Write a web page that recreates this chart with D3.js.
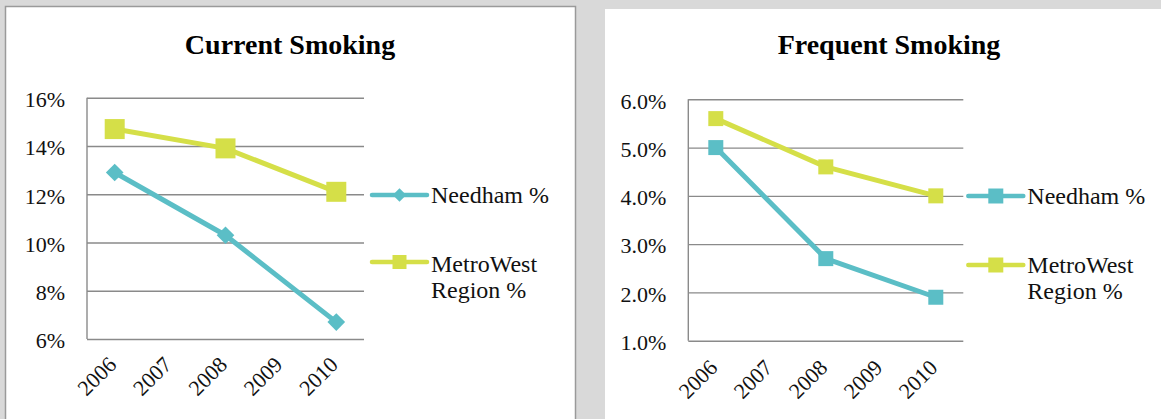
<!DOCTYPE html>
<html>
<head>
<meta charset="utf-8">
<script src="https://cdn.jsdelivr.net/npm/d3@7"></script>
<style>
  html, body { margin: 0; padding: 0; background: #d9d9d9; }
  svg { display: block; font-family: "Liberation Serif", "Times New Roman", serif; }
  svg text { font-family: "Liberation Serif", "Times New Roman", serif !important; }
</style>
</head>
<body>
<svg id="chart" width="1161" height="419"></svg>
<script>
// ---------- data ----------
const years = ["2006", "2007", "2008", "2009", "2010"];
const seriesNames = ["Needham %", "MetroWest Region %"];

const currentTitle = "Current Smoking";
const currentNeedham = [12.9, null, 10.3, null, 6.7];
const currentMetroWest = [14.7, null, 13.9, null, 12.1];
const currentTickValues = [6, 8, 10, 12, 14, 16];
const currentTickLabels = ["6%", "8%", "10%", "12%", "14%", "16%"];

const frequentTitle = "Frequent Smoking";
const frequentNeedham = [5.0, null, 2.7, null, 1.9];
const frequentMetroWest = [5.6, null, 4.6, null, 4.0];
const frequentTickValues = [1, 2, 3, 4, 5, 6];
const frequentTickLabels = ["1.0%", "2.0%", "3.0%", "4.0%", "5.0%", "6.0%"];

// ---------- styles ----------
const TEAL = "#5bbec6";
const LIME = "#d5df48";
const GRID = "#8a8a8a";

const svg = d3.select("#chart");

// panel backgrounds
svg.append("rect").attr("x", 5.5).attr("y", 6.5).attr("width", 570).attr("height", 430)
  .attr("fill", "#fff").attr("stroke", "#9a9a9a").attr("stroke-width", 1.5);
svg.append("rect").attr("x", 605).attr("y", 9).attr("width", 570).attr("height", 430)
  .attr("fill", "#fff");

function drawPanel(cfg) {
  const g = svg.append("g");
  const x = d3.scaleBand().domain(years).range([cfg.x0, cfg.x1]);
  const y = d3.scaleLinear().domain(d3.extent(cfg.tickValues)).range([cfg.yB, cfg.yT]);
  const cx = d => x(d) + x.bandwidth() / 2;

  // title
  g.append("text").attr("x", cfg.titleX).attr("y", 54)
    .attr("text-anchor", "middle")
    .attr("font-weight", "bold").attr("font-size", 28).attr("fill", "#000")
    .text(cfg.title);

  // gridlines + y labels
  const yAxis = d3.axisLeft(y).tickValues(cfg.tickValues)
    .tickSize(-(cfg.x1 - cfg.x0)).tickPadding(22)
    .tickFormat((d, i) => cfg.tickLabels[i]);
  const ya = g.append("g").attr("transform", `translate(${cfg.x0},0)`).call(yAxis);
  ya.attr("font-family", null).attr("font-size", null);
  ya.select(".domain").remove();
  ya.selectAll(".tick line").attr("stroke", GRID).attr("stroke-width", 1.4);
  ya.selectAll(".tick text").attr("font-size", 22)
    .attr("fill", "#111").attr("dy", "0.4em");

  // left axis line
  g.append("line").attr("x1", cfg.x0).attr("x2", cfg.x0).attr("y1", cfg.yT).attr("y2", cfg.yB)
    .attr("stroke", GRID).attr("stroke-width", 1.4);

  // x labels (rotated)
  g.append("g").selectAll("text").data(years).join("text")
    .attr("transform", d => `translate(${cx(d) + 3},${cfg.labelY}) rotate(-45)`)
    .attr("text-anchor", "end").attr("font-size", 22)
    .attr("fill", "#111").text(d => d);

  // series
  const line = d3.line().x(d => cx(d.year)).y(d => y(d.v));
  cfg.series.forEach(s => {
    const pts = years.map((yr, i) => ({ year: yr, v: s.values[i] })).filter(d => d.v != null);
    g.append("path").datum(pts).attr("d", line).attr("fill", "none")
      .attr("stroke", s.color).attr("stroke-width", 5).attr("stroke-linejoin", "round");
    g.append("g").selectAll("path").data(pts).join("path")
      .attr("transform", d => `translate(${cx(d.year)},${y(d.v)})${s.diamond ? " rotate(45)" : ""}`)
      .attr("d", d3.symbol(d3.symbolSquare, s.size * s.size)())
      .attr("fill", s.color);
  });

  // legend
  cfg.series.forEach((s, i) => {
    const L = cfg.legend[i];
    g.append("line").attr("x1", L.x).attr("x2", L.x + 55).attr("y1", L.y).attr("y2", L.y)
      .attr("stroke", s.color).attr("stroke-width", 4.5).attr("stroke-linecap", "round");
    g.append("path")
      .attr("transform", `translate(${L.x + 27.5},${L.y})${s.diamond ? " rotate(45)" : ""}`)
      .attr("d", d3.symbol(d3.symbolSquare, s.legendSize * s.legendSize)())
      .attr("fill", s.color);
    const t = g.append("text").attr("font-size", 24).attr("fill", "#111");
    L.lines.forEach((txt, j) => {
      t.append("tspan").attr("x", L.x + 59).attr("y", L.ty + j * 26.6).text(txt);
    });
  });
}

drawPanel({
  title: currentTitle, titleX: 290,
  x0: 87, x1: 364, yT: 97.7, yB: 339, labelY: 366,
  tickValues: currentTickValues, tickLabels: currentTickLabels,
  series: [
    { values: currentNeedham, color: TEAL, diamond: true, size: 12.5, legendSize: 9.5 },
    { values: currentMetroWest, color: LIME, diamond: false, size: 20, legendSize: 14 }
  ],
  legend: [
    { x: 372, y: 195, ty: 202.7, lines: ["Needham %"] },
    { x: 372, y: 262, ty: 271.7, lines: ["MetroWest", "Region %"] }
  ]
});

drawPanel({
  title: frequentTitle, titleX: 889,
  x0: 688.3, x1: 963.3, yT: 99.3, yB: 340.7, labelY: 369,
  tickValues: frequentTickValues, tickLabels: frequentTickLabels,
  series: [
    { values: frequentNeedham, color: TEAL, diamond: false, size: 15, legendSize: 15 },
    { values: frequentMetroWest, color: LIME, diamond: false, size: 15, legendSize: 15 }
  ],
  legend: [
    { x: 968.3, y: 196, ty: 204.3, lines: ["Needham %"] },
    { x: 968.3, y: 265, ty: 272.7, lines: ["MetroWest", "Region %"] }
  ]
});
</script>
</body>
</html>
